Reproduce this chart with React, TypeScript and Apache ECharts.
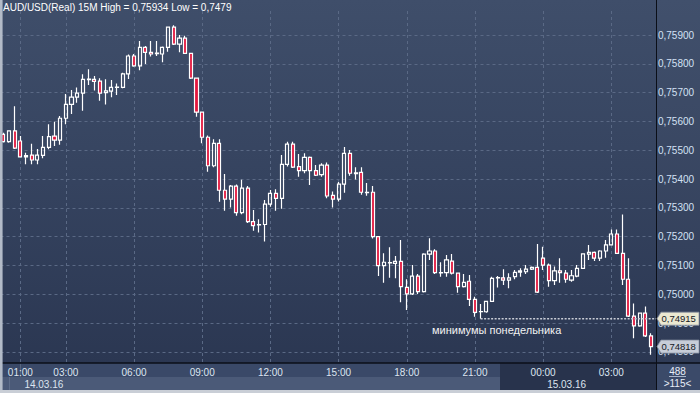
import React, { useEffect, useRef } from 'react';
import * as echarts from 'echarts';

// 15-minute bars, 14.03.16 00:15 -> 15.03.16 04:45
const categories: string[] = [];
for (let i = 0; i < 115; i++) {
  const t = 15 + i * 15;
  const h = Math.floor(t / 60) % 24;
  const m = t % 60;
  categories.push(`${String(h).padStart(2, '0')}:${String(m).padStart(2, '0')}`);
}

const timeLabelIndex = [3, 11, 23, 35, 47, 59, 71, 83, 95, 107];
const dateLabelIndex = [3, 95];
const dateLabels = ['14.03.16', '15.03.16'];
const nextDayIndex = 95;

const opens = [
  0.75555, 0.75530, 0.75567, 0.75532, 0.75477, 0.75483, 0.75466, 0.75482, 0.75510, 0.75549,
  0.75535, 0.75611, 0.75659, 0.75684, 0.75698, 0.75745, 0.75746, 0.75740, 0.75700, 0.75705,
  0.75718, 0.75718, 0.75765, 0.75827, 0.75793, 0.75857, 0.75840, 0.75835, 0.75834, 0.75857,
  0.75927, 0.75868, 0.75889, 0.75836, 0.75750, 0.75632, 0.75545, 0.75446, 0.75524, 0.75361,
  0.75330, 0.75375, 0.75283, 0.75368, 0.75252, 0.75242, 0.75242, 0.75313, 0.75350, 0.75333,
  0.75451, 0.75521, 0.75443, 0.75429, 0.75475, 0.75429, 0.75415, 0.75448, 0.75343, 0.75330,
  0.75382, 0.75489, 0.75421, 0.75423, 0.75354, 0.75354, 0.75200, 0.75099, 0.75109, 0.75107,
  0.75114, 0.75024, 0.75001, 0.75063, 0.75009, 0.75139, 0.75150, 0.75075, 0.75075, 0.75115,
  0.75073, 0.75026, 0.75045, 0.74982, 0.74939, 0.74939, 0.74975, 0.75057, 0.75057, 0.75049,
  0.75061, 0.75077, 0.75078, 0.75087, 0.75093, 0.75125, 0.75101, 0.75047, 0.75081, 0.75073,
  0.75049, 0.75063, 0.75090, 0.75139, 0.75145, 0.75125, 0.75150, 0.75171, 0.75209, 0.75142,
  0.75052, 0.74924, 0.74890, 0.74934, 0.74855,
];

const closes = [
  0.75530, 0.75567, 0.75507, 0.75477, 0.75481, 0.75466, 0.75483, 0.75510, 0.75547, 0.75535,
  0.75611, 0.75659, 0.75684, 0.75698, 0.75746, 0.75747, 0.75739, 0.75698, 0.75706, 0.75718,
  0.75719, 0.75765, 0.75827, 0.75793, 0.75857, 0.75840, 0.75834, 0.75837, 0.75857, 0.75927,
  0.75868, 0.75889, 0.75836, 0.75750, 0.75632, 0.75545, 0.75446, 0.75524, 0.75361, 0.75330,
  0.75375, 0.75283, 0.75368, 0.75252, 0.75238, 0.75241, 0.75313, 0.75350, 0.75333, 0.75451,
  0.75521, 0.75441, 0.75429, 0.75475, 0.75429, 0.75413, 0.75448, 0.75341, 0.75330, 0.75382,
  0.75489, 0.75420, 0.75419, 0.75354, 0.75353, 0.75200, 0.75099, 0.75111, 0.75110, 0.75114,
  0.75026, 0.75001, 0.75063, 0.75009, 0.75139, 0.75150, 0.75075, 0.75074, 0.75119, 0.75073,
  0.75026, 0.75041, 0.74982, 0.74937, 0.74940, 0.74975, 0.75055, 0.75058, 0.75049, 0.75057,
  0.75076, 0.75081, 0.75087, 0.75093, 0.75007, 0.75101, 0.75047, 0.75081, 0.75075, 0.75052,
  0.75064, 0.75090, 0.75140, 0.75145, 0.75125, 0.75150, 0.75171, 0.75209, 0.75142, 0.75052,
  0.74924, 0.74890, 0.74934, 0.74855, 0.74818,
];

const highs = [
  0.75561, 0.75568, 0.75653, 0.75549, 0.75491, 0.75522, 0.75504, 0.75549, 0.75590, 0.75599,
  0.75619, 0.75695, 0.75709, 0.75718, 0.75764, 0.75781, 0.75758, 0.75750, 0.75746, 0.75744,
  0.75732, 0.75769, 0.75832, 0.75834, 0.75879, 0.75862, 0.75879, 0.75879, 0.75860, 0.75928,
  0.75934, 0.75900, 0.75897, 0.75837, 0.75751, 0.75633, 0.75551, 0.75538, 0.75538, 0.75417,
  0.75379, 0.75381, 0.75397, 0.75376, 0.75292, 0.75260, 0.75327, 0.75362, 0.75364, 0.75483,
  0.75529, 0.75529, 0.75487, 0.75489, 0.75478, 0.75449, 0.75455, 0.75457, 0.75357, 0.75390,
  0.75511, 0.75501, 0.75441, 0.75441, 0.75386, 0.75376, 0.75202, 0.75142, 0.75163, 0.75133,
  0.75188, 0.75052, 0.75101, 0.75070, 0.75142, 0.75194, 0.75156, 0.75111, 0.75136, 0.75140,
  0.75074, 0.75070, 0.75067, 0.74991, 0.74966, 0.74976, 0.75061, 0.75063, 0.75087, 0.75073,
  0.75084, 0.75090, 0.75101, 0.75096, 0.75174, 0.75165, 0.75107, 0.75096, 0.75125, 0.75084,
  0.75084, 0.75101, 0.75141, 0.75171, 0.75148, 0.75153, 0.75188, 0.75225, 0.75225, 0.75277,
  0.75125, 0.74968, 0.74935, 0.74957, 0.74864,
];

const lows = [
  0.75527, 0.75526, 0.75504, 0.75475, 0.75451, 0.75451, 0.75451, 0.75472, 0.75503, 0.75515,
  0.75519, 0.75590, 0.75626, 0.75665, 0.75637, 0.75726, 0.75707, 0.75672, 0.75659, 0.75684,
  0.75692, 0.75715, 0.75747, 0.75790, 0.75778, 0.75799, 0.75825, 0.75827, 0.75805, 0.75842,
  0.75865, 0.75840, 0.75834, 0.75747, 0.75616, 0.75524, 0.75425, 0.75441, 0.75321, 0.75290,
  0.75301, 0.75272, 0.75278, 0.75247, 0.75220, 0.75214, 0.75183, 0.75304, 0.75290, 0.75297,
  0.75443, 0.75438, 0.75408, 0.75420, 0.75379, 0.75410, 0.75408, 0.75333, 0.75301, 0.75322,
  0.75352, 0.75411, 0.75398, 0.75345, 0.75342, 0.75193, 0.75063, 0.75040, 0.75057, 0.75055,
  0.74972, 0.74945, 0.74997, 0.75001, 0.75006, 0.75119, 0.75070, 0.75061, 0.75061, 0.75068,
  0.75005, 0.75023, 0.74959, 0.74922, 0.74915, 0.74936, 0.74973, 0.75023, 0.75032, 0.75021,
  0.75052, 0.75061, 0.75070, 0.75084, 0.75004, 0.75084, 0.75026, 0.75032, 0.75040, 0.75040,
  0.75043, 0.75059, 0.75088, 0.75119, 0.75115, 0.75115, 0.75127, 0.75169, 0.75140, 0.75032,
  0.74921, 0.74847, 0.74887, 0.74851, 0.74790,
];

const mondayLow = 0.74915;
const mondayLowIndex = 84;
const titleText = 'AUD/USD(Real) 15M High = 0,75934 Low = 0,7479';
const annotationText = 'минимумы понедельника';
const infoTop = '488';
const infoBottom = '>115<';

const FONT = '"Liberation Sans", Arial, sans-serif';
const fmt = (v: number) => v.toFixed(5).replace('.', ',');

export default function App() {
  const ref = useRef<HTMLDivElement>(null);

  useEffect(() => {
    document.body.style.margin = '0';
    const chart = echarts.init(ref.current!, null, { renderer: 'svg' });
    const candles = opens.map((o, i) => [o, closes[i], lows[i], highs[i]]);
    const light = '#dde5f0';
    const dim = '#66738e';

    const option: any = {
      animation: false,
      backgroundColor: '#34425d',
      grid: { left: 0.5, right: 46.07, top: 8, bottom: 31, containLabel: false },
      xAxis: [
        {
          type: 'category',
          data: categories,
          boundaryGap: true,
          axisLine: { show: false },
          axisTick: { show: false },
          splitLine: { show: false },
          axisLabel: {
            interval: (i: number) => timeLabelIndex.includes(i),
            fontSize: 10,
            fontFamily: FONT,
            margin: 5,
            color: (_v: string, i: number) => (i >= nextDayIndex ? dim : light),
          },
        },
        {
          type: 'category',
          data: categories,
          position: 'bottom',
          offset: 12,
          boundaryGap: true,
          axisLine: { show: false },
          axisTick: { show: false },
          splitLine: { show: false },
          axisLabel: {
            interval: (i: number) => dateLabelIndex.includes(i),
            formatter: (_v: string, i: number) => {
              const k = dateLabelIndex.indexOf(i);
              return k >= 0 ? dateLabels[k] : '';
            },
            align: 'left',
            padding: [0, 0, 0, 4],
            fontSize: 10,
            fontFamily: FONT,
            margin: 5,
            color: (_v: string, i: number) => (i >= nextDayIndex ? dim : light),
          },
        },
      ],
      yAxis: {
        type: 'value',
        position: 'right',
        min: 0.747646,
        max: 0.7599375,
        minInterval: 0.001,
        maxInterval: 0.001,
        scale: true,
        axisLine: { show: false },
        axisTick: { show: false },
        splitLine: {
          show: true,
          showMinLine: false,
          showMaxLine: false,
          lineStyle: { color: '#5a6985', type: [3, 3], width: 1 },
        },
        axisLabel: {
          margin: 4,
          fontSize: 10,
          fontFamily: FONT,
          color: '#d3e1f4',
          formatter: (v: number) =>
            Math.abs(v * 1000 - Math.round(v * 1000)) < 1e-6 ? fmt(v) : '',
        },
      },
      series: [
        {
          type: 'candlestick',
          data: candles,
          barWidth: 3.6,
          itemStyle: {
            color: 'rgba(0,0,0,0)',
            color0: '#e3173e',
            borderColor: '#ffffff',
            borderColor0: '#ffffff',
            borderWidth: 1.2,
          },
          markLine: {
            silent: true,
            z: 1,
            symbol: ['none', 'none'],
            label: { show: false },
            lineStyle: { color: '#5a6985', type: [3, 3], width: 1 },
            data: timeLabelIndex.map((i) => ({ xAxis: i })),
          },
        },
      ],
    };
    chart.setOption(option);

    const yTag = chart.convertToPixel({ yAxisIndex: 0 }, mondayLow) as number;
    const yLast = chart.convertToPixel({ yAxisIndex: 0 }, closes[closes.length - 1]) as number;
    const xStart = chart.convertToPixel({ xAxisIndex: 0 }, mondayLowIndex) as number;

    const tag = (y: number, fill: string, text: string) => [
      {
        type: 'polygon',
        z: 100,
        shape: { points: [[657, y], [661, y - 6.5], [699, y - 6.5], [699, y + 6.5], [661, y + 6.5]] },
        style: { fill, stroke: '#8a93a3', lineWidth: 0.8 },
      },
      {
        type: 'text',
        z: 101,
        x: 661.5,
        y: y,
        style: {
          text,
          fill: '#15181f',
          fontSize: 9.5,
          fontFamily: FONT,
          verticalAlign: 'middle',
          textVerticalAlign: 'middle',
        },
      },
    ];

    const graphic: any[] = [
      {
        type: 'rect', z: -100, shape: { x: 0, y: 0, width: 656, height: 363 },
        style: {
          fill: {
            type: 'linear', x: 0, y: 0, x2: 0, y2: 1,
            colorStops: [
              { offset: 0, color: '#3f4e6a' },
              { offset: 0.5, color: '#35435f' },
              { offset: 1, color: '#2b3752' },
            ],
          },
        },
      },
      {
        type: 'rect', z: -100, shape: { x: 656, y: 0, width: 44, height: 363 },
        style: {
          fill: {
            type: 'linear', x: 0, y: 0, x2: 0, y2: 1,
            colorStops: [
              { offset: 0, color: '#41506c' },
              { offset: 1, color: '#2f3b56' },
            ],
          },
        },
      },
      { type: 'rect', z: -100, shape: { x: 0, y: 363, width: 700, height: 14 }, style: { fill: '#3a4968' } },
      { type: 'rect', z: -100, shape: { x: 0, y: 377, width: 656, height: 13 }, style: { fill: '#4b5a78' } },
      { type: 'rect', z: -99, shape: { x: 500, y: 363, width: 156, height: 27 }, style: { fill: '#28334c' } },
      { type: 'rect', z: -99, shape: { x: 656, y: 363, width: 44, height: 27 }, style: { fill: '#3b4a69' } },
      { type: 'line', z: -98, shape: { x1: 20.5, y1: 364, x2: 20.5, y2: 377 }, style: { stroke: '#56657f', lineWidth: 1 } },
      { type: 'line', z: -98, shape: { x1: 9.5, y1: 377, x2: 9.5, y2: 390 }, style: { stroke: '#5f6e8a', lineWidth: 1 } },
      { type: 'line', z: 100, shape: { x1: 0, y1: 363, x2: 700, y2: 363 }, style: { stroke: '#0b0f18', lineWidth: 1.3 } },
      { type: 'line', z: 100, shape: { x1: 656.5, y1: 0, x2: 656.5, y2: 390 }, style: { stroke: '#0b0f18', lineWidth: 1 } },
      { type: 'rect', z: 100, shape: { x: 0, y: 0, width: 2.6, height: 393 }, style: { fill: '#b3bbc8' } },
      { type: 'rect', z: 100, shape: { x: 0, y: 390, width: 700, height: 3 }, style: { fill: '#c9ced6' } },
      {
        type: 'text', z: 100, x: 3, y: 2,
        style: { text: titleText, fill: '#ffffff', fontSize: 10, fontFamily: FONT, verticalAlign: 'top', textVerticalAlign: 'top' },
      },
      {
        type: 'text', z: 100, x: 677.5, y: 371,
        style: { text: infoTop, fill: '#e8eef8', fontSize: 10, fontFamily: FONT, align: 'center', textAlign: 'center', verticalAlign: 'middle', textVerticalAlign: 'middle' },
      },
      { type: 'line', z: 100, shape: { x1: 669, y1: 376.5, x2: 686, y2: 376.5 }, style: { stroke: '#aab6ca', lineWidth: 1 } },
      {
        type: 'text', z: 100, x: 677.5, y: 383,
        style: { text: infoBottom, fill: '#e8eef8', fontSize: 10, fontFamily: FONT, align: 'center', textAlign: 'center', verticalAlign: 'middle', textVerticalAlign: 'middle' },
      },
      {
        type: 'text', z: 100, x: 432, y: 330,
        style: { text: annotationText, fill: '#f2f2f2', fontSize: 11, fontFamily: FONT, verticalAlign: 'middle', textVerticalAlign: 'middle' },
      },
      {
        type: 'line', z: 50, shape: { x1: xStart, y1: yTag, x2: 657, y2: yTag },
        style: { stroke: '#c9cdd6', lineWidth: 1.4, lineDash: [2, 1.5] },
      },
      ...tag(yTag, '#ebe8d1', fmt(mondayLow)),
      ...tag(yLast, '#c7cdd8', fmt(closes[closes.length - 1])),
    ];
    chart.setOption({ graphic });

    return () => chart.dispose();
  }, []);

  return <div ref={ref} style={{ width: 700, height: 393 }} />;
}
